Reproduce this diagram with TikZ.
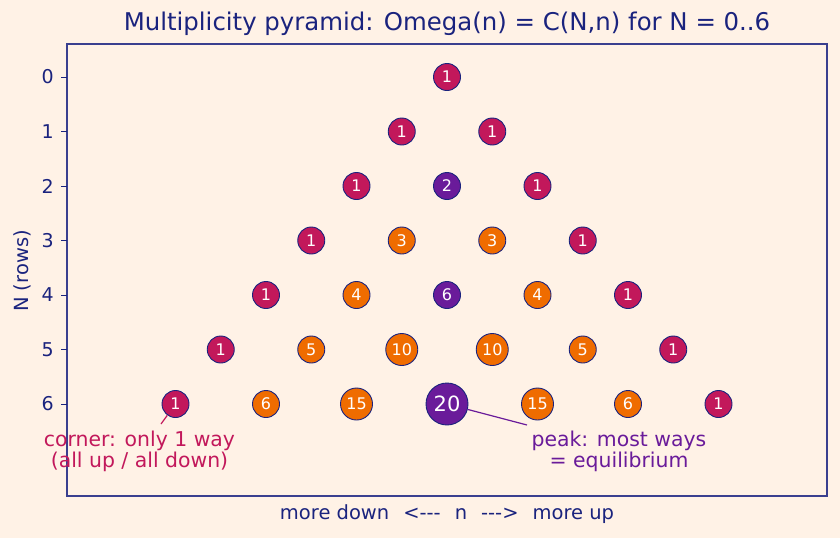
\documentclass[tikz,border=0pt]{standalone}
\usepackage{fontspec}
\setmainfont{DejaVu Sans}[Ligatures=TeXOff]
\usetikzlibrary{positioning, calc}
\definecolor{cbg}{HTML}{FFF2E6}
\definecolor{cnavy}{HTML}{1A237E}
\definecolor{cframe}{HTML}{3A3F8F}
\definecolor{ccrim}{HTML}{C2185B}
\definecolor{cpurp}{HTML}{6A1B9A}
\definecolor{corng}{HTML}{EF6C00}

\begin{document}
\begin{tikzpicture}[x=1pt, y=-1pt,
    cell/.style={circle, draw=cnavy, line width=0.9pt, fill=#1, text=white, inner sep=0pt},
    tick/.style={font=\fontsize{19}{19}\selectfont, text=cnavy, anchor=east, inner sep=0pt},
    axlabel/.style={font=\fontsize{19.5}{19.5}\selectfont, text=cnavy},
    note/.style={font=\fontsize{20.4}{21}\selectfont, text=#1, align=center, inner sep=0pt},
]

\useasboundingbox (0,0) rectangle (840,538);
\fill[cbg] (0,0) rectangle (840,538);

% frame and axis
\draw[cframe, line width=1.1pt] (67,44) rectangle (827,496);
\foreach \r in {0,...,6} {
    \draw[cnavy, line width=0.8pt] (61,77+54.5*\r) -- (67,77+54.5*\r);
    \node[tick] (row\r) at (54,77+54.5*\r) {\r};
}
\node[font=\fontsize{24.4}{24.4}\selectfont, text=cnavy] (title) at (447,24) {Multiplicity pyramid: Omega(n) = C(N,n) for N = 0..6};
\node[axlabel, rotate=90] (ylab) at (22,271) {N (rows)};
\node[axlabel] (xlab) at (447,514) {more down\hspace{14pt}<---\hspace{14pt}n\hspace{14pt}--->\hspace{14pt}more up};

% pyramid cells
\foreach \N in {0,...,6} {
    \foreach \n in {0,...,\N} {
        \pgfmathtruncatemacro{\C}{factorial(\N)/(factorial(\n)*factorial(\N-\n))}
        \def\cellcol{corng}
        \def\cellsize{27}
        \def\cellfont{\fontsize{16}{16}\selectfont}
        \ifnum\numexpr2*\n\relax=\N \def\cellcol{cpurp}\fi
        \ifnum\C=1 \def\cellcol{ccrim}\fi
        \ifnum\C>9 \def\cellsize{32}\fi
        \ifnum\C=20 \def\cellsize{42}\def\cellfont{\fontsize{21}{21}\selectfont}\fi
        \node[cell=\cellcol, minimum size=\cellsize pt, font=\cellfont] (p-\N-\n) at (447+90.5*\n-45.25*\N, 77+54.5*\N) {\C};
    }
}

% annotations
\node[note=ccrim] (cornertxt) at (139.5,451) {corner: only 1 way\\(all up / all down)};
\coordinate (cornerend) at (161,424);
\draw[ccrim, line width=1.2pt] (cornerend) -- (p-6-0);

\node[note=cpurp] (peaktxt) at (619,451) {peak: most ways\\= equilibrium};
\coordinate (peakend) at (527,425);
\draw[cpurp, line width=1.2pt] (peakend) -- (p-6-3);

\end{tikzpicture}
\end{document}
